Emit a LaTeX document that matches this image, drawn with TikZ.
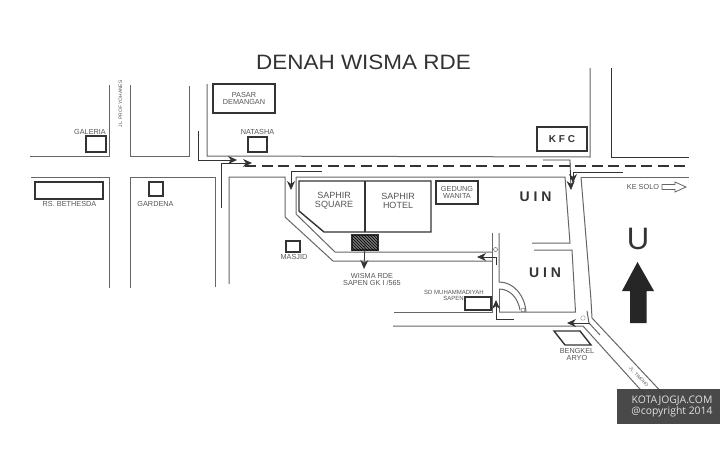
\documentclass[tikz,border=0pt]{standalone}
\usepackage{fontspec}
\setmainfont{Liberation Sans}
\newfontfamily\wmfont{Open Sans}
\usetikzlibrary{arrows.meta,patterns}
\definecolor{roadc}{HTML}{666666}
\definecolor{boxc}{HTML}{333333}
\definecolor{txtc}{HTML}{555555}
\tikzset{
  road/.style={draw=roadc,line width=1pt},
  darkroad/.style={draw=boxc,line width=0.9pt},
  bld/.style={draw=boxc,line width=1.4pt,fill=white},
  route/.style={draw=boxc,line width=0.8pt,-{Stealth[length=9pt,width=8pt]}},
  lab/.style={text=txtc,font=\fontsize{7.3}{7.3}\selectfont,align=center,inner sep=0pt},
  blab/.style={text=txtc,font=\fontsize{9}{8.8}\selectfont,align=center,inner sep=0pt},
  uin/.style={text=boxc,font=\bfseries\fontsize{14}{14}\selectfont,inner sep=0pt},
}
\begin{document}
\begin{tikzpicture}[x=1pt,y=-1pt]
\useasboundingbox (0,0) rectangle (720,450);
\fill[white] (0,0) rectangle (720,450);
% title
\node[inner sep=0pt,text=boxc,xscale=1.08,font=\fontsize{20.8}{22}\selectfont] (title) at (363.5,62) {DENAH WISMA RDE};
% roads, left part
\draw[road] (30,156) -- (109,156) -- (109,85);
\draw[road] (130,85) -- (130,156) -- (189,156) -- (189,86);
\draw[road] (31,177) -- (109,177) -- (109,288);
\draw[road] (130,288) -- (130,177) -- (215,177) -- (215,287);
\draw[road] (229,284) -- (229,177) -- (285,177) -- (285,217) -- (333,261) -- (492,261);
% main street
\draw[road] (207,84) -- (207,156) -- (590,157) -- (590,68);
\draw[darkroad] (611,68) -- (611,157) -- (689,157);
\draw[road] (296,177) -- (565,177) -- (570,243) -- (532,243);
\draw[road] (296,177) -- (296,214) -- (335,252) -- (492,252);
\draw[road] (534,250) -- (572,250) -- (575.5,312) -- (499,312);
\draw[road] (581,177) -- (689,177);
\draw[road] (581,177) -- (588,262) -- (591,300) -- (592,318) -- (667,398);
\draw[darkroad,dashed,dash pattern=on 11pt off 5.5pt,line width=1.6pt] (245,166) -- (690,166);
% side lane and bend
\draw[road] (492,233) -- (492,312) -- (394,312);
\draw[road] (499,233) -- (499,282) .. controls (514,282) and (525,296) .. (526,312);
\draw[road] (499,289) .. controls (510,289) and (518,298) .. (520,310);
\draw[road] (499,289) -- (499,312);
\draw[road] (393,326) -- (583,326) -- (657,408);
\draw[road] (587,311) -- (589,323) -- (600,335);
% small markers
\node[draw=roadc,circle,line width=0.5pt,minimum size=4pt,inner sep=0pt] (mk1) at (495.5,249.5) {};
\node[draw=roadc,circle,line width=0.5pt,minimum size=4pt,inner sep=0pt] (mk2) at (523,310) {};
\node[draw=gray!70,circle,line width=0.5pt,minimum size=4.5pt,inner sep=0pt] (mk3) at (583,318) {};
% buildings
\node[bld,minimum width=50pt,minimum height=24pt,inner sep=0pt] (kfc) at (562,139) {};
\node[text=boxc,font=\bfseries\fontsize{10}{10}\selectfont,inner sep=0pt] at (kfc.center) {K F C};
\node[bld,minimum width=62pt,minimum height=29pt,inner sep=0pt,lab] (pasar) at (244,98.5) {PASAR\\DEMANGAN};
\node[bld,minimum width=19pt,minimum height=15pt,inner sep=0pt] (natasha) at (257.5,144.5) {};
\node[lab] (natashal) at (257.5,132) {NATASHA};
\node[bld,minimum width=20pt,minimum height=16pt,inner sep=0pt] (galeria) at (96,144) {};
\node[lab] (galerial) at (90,131.5) {GALERIA};
\node[bld,minimum width=68pt,minimum height=17pt,inner sep=0pt] (rs) at (69,190.5) {};
\node[lab] (rsl) at (69.5,203.5) {RS. BETHESDA};
\node[bld,minimum width=14pt,minimum height=14pt,inner sep=0pt] (gardena) at (156,189) {};
\node[lab] (gardenal) at (155.5,204) {GARDENA};
\node[lab,rotate=90,font=\fontsize{4.9}{5}\selectfont] (yohanes) at (120.5,104) {JL. PROF YOHANES};
\node[bld,minimum width=14pt,minimum height=11pt,inner sep=0pt,line width=1.1pt] (masjid) at (293,246.5) {};
\node[lab] (masjidl) at (294,256.5) {MASJID};
\draw[bld] (299,181) -- (431,181) -- (431,232) -- (324,232) -- (299,211) -- cycle;
\draw[darkroad,line width=1.2pt] (365,181) -- (365,232);
\node[blab] (square) at (334,201) {SAPHIR\\SQUARE};
\node[blab] (hotel) at (398,201) {SAPHIR\\HOTEL};
\node[bld,minimum width=42pt,minimum height=23pt,inner sep=0pt,lab] (gedung) at (457,192.5) {GEDUNG\\WANITA};
\node[draw=boxc,line width=1.2pt,fill=black!55,minimum width=26pt,minimum height=15pt,inner sep=0pt] (wisma) at (365,242.5) {};
\fill[pattern=north west lines,pattern color=black] (352,235) rectangle (378,250);
\node[lab] (wismal) at (372,279.5) {WISMA RDE\\SAPEN GK I /565};
\node[bld,minimum width=26pt,minimum height=13pt,inner sep=0pt] (sd) at (478,303.5) {};
\node[lab,font=\fontsize{6}{6}\selectfont] (sdl) at (454,292) {SD MUHAMMADIYAH};
\node[lab,font=\fontsize{6}{6}\selectfont] (sdl2) at (453.5,298.5) {SAPEN};
\draw[bld] (554,331) -- (580,331) -- (591,345) -- (565,345) -- cycle;
\node[lab] (bengkel) at (577,354.5) {BENGKEL\\ARYO};
\node[uin] (uin1) at (535.5,197) {U I N};
\node[uin] (uin2) at (545,273) {U I N};
\node[lab,rotate=-47,font=\fontsize{4.6}{5}\selectfont] (timoho) at (639,377) {JL. TIMOHO};
\node[lab] (solo) at (643,187) {KE SOLO};
% hollow arrow
\draw[draw=roadc,line width=0.8pt,fill=white] (662,184.5) -- (675,184.5) -- (675,182) -- (686,187) -- (675,192) -- (675,189.5) -- (662,189.5) -- cycle;
% north sign
\node[inner sep=0pt,text=boxc,font=\fontsize{31}{32}\selectfont] (north) at (638,239) {U};
\fill[black!85] (637.5,262) -- (654,291) -- (646.5,291) -- (646.5,323) -- (630,323) -- (630,291) -- (622,291) -- cycle;
% route arrows
\coordinate (r1a) at (198,131); \coordinate (r1b) at (198,160); \coordinate (r1c) at (237,160);
\draw[route] (r1a) -- (r1b) -- (r1c);
\coordinate (r2a) at (221,208); \coordinate (r2b) at (221,163); \coordinate (r2c) at (252,163);
\draw[route] (r2a) -- (r2b) -- (r2c);
\coordinate (r3a) at (322,171); \coordinate (r3b) at (291,171); \coordinate (r3c) at (291,190);
\draw[route] (r3a) -- (r3b) -- (r3c);
\coordinate (r4a) at (543,160); \coordinate (r4b) at (570,160); \coordinate (r4c) at (571,190);
\draw[route] (r4a) -- (r4b) -- (r4c);
\coordinate (r5a) at (623,172); \coordinate (r5b) at (573,172); \coordinate (r5c) at (573,183);
\draw[route] (r5a) -- (r5b) -- (r5c);
\draw[route] (wisma.center) -- (364,269);
\coordinate (r6a) at (496,265); \coordinate (r6b) at (496,257); \coordinate (r6c) at (477,257);
\draw[route] (r6a) -- (r6b) -- (r6c);
\coordinate (r7a) at (514,319); \coordinate (r7b) at (496,319); \coordinate (r7c) at (496,300);
\draw[route] (r7a) -- (r7b) -- (r7c);
\coordinate (r8a) at (590,323); \coordinate (r8c) at (567,323);
\draw[route] (r8a) -- (r8c);
% watermark
\fill[black!75,opacity=0.95] (617,389) rectangle (720,424);
\node[inner sep=0pt,text=white!88!black,align=center,font=\wmfont\fontsize{10.4}{11}\selectfont] (wm) at (672,406) {KOTAJOGJA.COM\\@copyright 2014};
\end{tikzpicture}
\end{document}
